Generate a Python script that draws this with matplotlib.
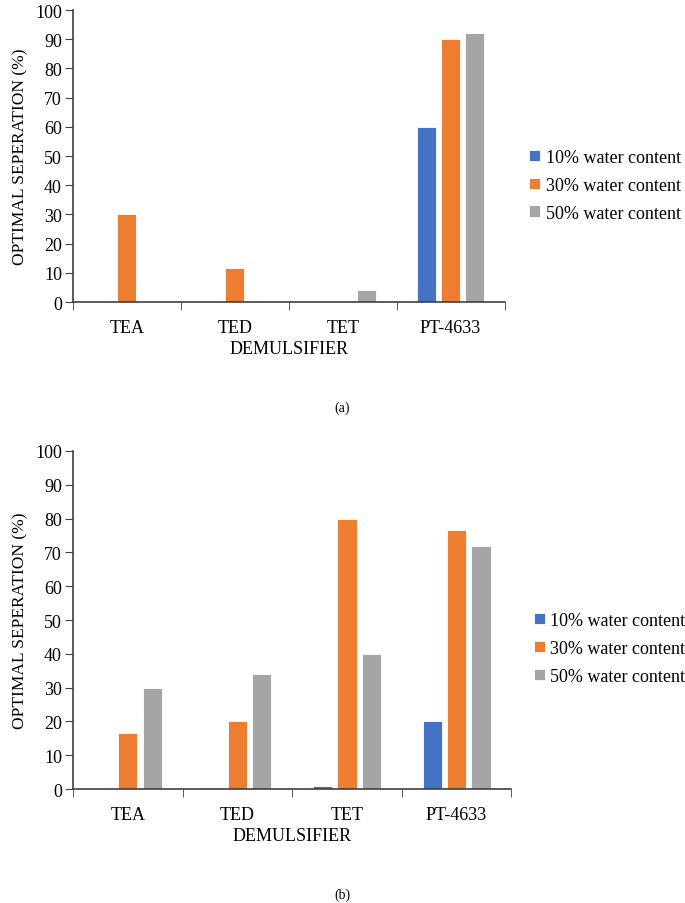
import numpy as np
import matplotlib
matplotlib.use("Agg")
import matplotlib.pyplot as plt

plt.rcParams['font.family'] = ['Liberation Serif', 'DejaVu Serif']

# data
categories = ['TEA', 'TED', 'TET', 'PT-4633']
series_names = ['10% water content', '30% water content', '50% water content']
colors = ['#4472C4', '#ED7D31', '#A5A5A5']

vals_a = {
    '10% water content': [0, 0, 0, 60],
    '30% water content': [30, 11.5, 0, 90],
    '50% water content': [0, 0, 4, 92],
}
vals_b = {
    '10% water content': [0, 0.4, 1, 20],
    '30% water content': [16.5, 20, 80, 76.5],
    '50% water content': [30, 34, 40, 72],
}

fig = plt.figure(figsize=(6.85, 9.04), dpi=100)
ax_a = fig.add_axes([0.1066, 0.6648, 0.630, 0.323])
ax_b = fig.add_axes([0.1066, 0.1261, 0.640, 0.3739])

x = np.arange(len(categories))
bw = 0.176
step = 0.222


def draw(ax, vals):
    for i, name in enumerate(series_names):
        ax.bar(x + (i - 1) * step, vals[name], width=bw, color=colors[i],
               edgecolor='white', linewidth=0.6, label=name)
    ax.set_xlim(-0.5, 3.5)
    ax.set_ylim(0, 100)
    ax.set_yticks(range(0, 101, 10))
    ax.set_xticks(x)
    ax.set_xticklabels(categories, fontsize=13)
    ax.set_xticks(np.arange(-0.5, 4, 1), minor=True)
    ax.tick_params(axis='x', which='major', length=0, pad=12)
    ax.tick_params(axis='x', which='minor', length=6, color='#404040')
    ax.tick_params(axis='y', labelsize=13, length=6, color='#404040', pad=2)
    for s in ['top', 'right']:
        ax.spines[s].set_visible(False)
    for s in ['left', 'bottom']:
        ax.spines[s].set_color('#404040')
        ax.spines[s].set_linewidth(1.2)
    ax.set_xlabel('DEMULSIFIER', fontsize=13, labelpad=3)
    ax.set_ylabel('OPTIMAL SEPERATION (%)', fontsize=12.5, labelpad=5)


draw(ax_a, vals_a)
draw(ax_b, vals_b)

ax_a.legend(loc='center left', bbox_to_anchor=(1.02, 0.40), frameon=False,
            fontsize=13, handlelength=0.6, handleheight=0.6, handletextpad=0.3,
            labelspacing=0.6)
ax_b.legend(loc='center left', bbox_to_anchor=(1.015, 0.416), frameon=False,
            fontsize=13, handlelength=0.6, handleheight=0.6, handletextpad=0.3,
            labelspacing=0.6)

fig.text(0.5, 1 - 408 / 904, '(a)', ha='center', va='center', fontsize=10)
fig.text(0.5, 1 - 895 / 904, '(b)', ha='center', va='center', fontsize=10)

fig.savefig('out.png', dpi=100)
